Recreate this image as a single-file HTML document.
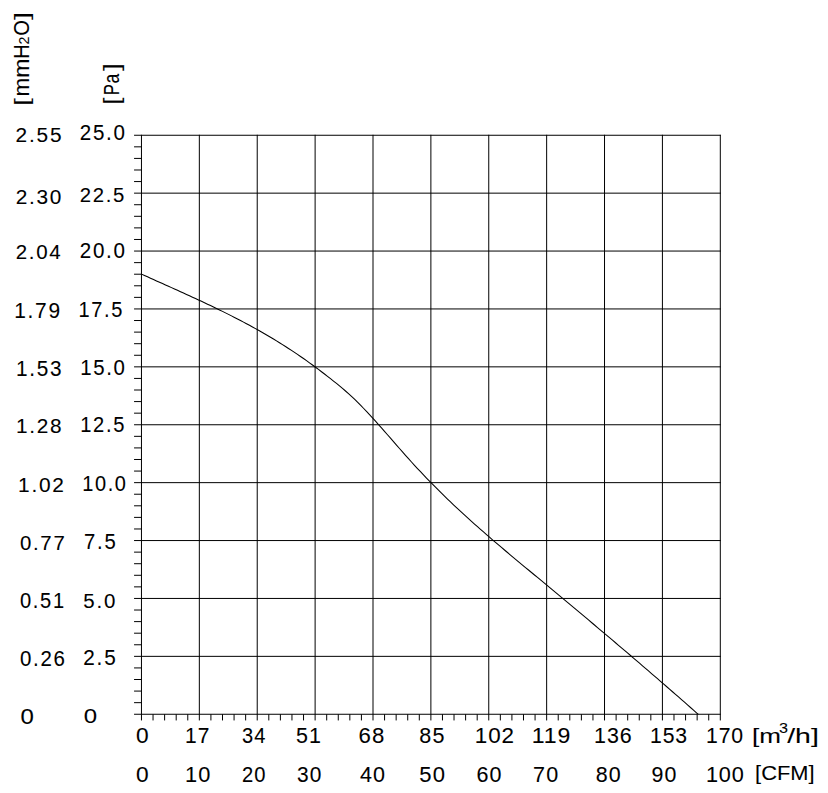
<!DOCTYPE html>
<html><head><meta charset="utf-8"><title>Fan curve</title>
<style>html,body{margin:0;padding:0;background:#fff;width:828px;height:793px;overflow:hidden}svg{display:block}</style>
</head><body>
<svg width="828" height="793" viewBox="0 0 828 793">
<rect width="828" height="793" fill="#fff"/>
<g stroke="#000" stroke-width="1.0" fill="none"><line x1="141.46" y1="134.80" x2="141.46" y2="720.45"/><line x1="199.34" y1="134.80" x2="199.34" y2="720.45"/><line x1="257.23" y1="134.80" x2="257.23" y2="720.45"/><line x1="315.11" y1="134.80" x2="315.11" y2="720.45"/><line x1="373.00" y1="134.80" x2="373.00" y2="720.45"/><line x1="430.88" y1="134.80" x2="430.88" y2="720.45"/><line x1="488.76" y1="134.80" x2="488.76" y2="720.45"/><line x1="546.65" y1="134.80" x2="546.65" y2="720.45"/><line x1="604.53" y1="134.80" x2="604.53" y2="720.45"/><line x1="662.42" y1="134.80" x2="662.42" y2="720.45"/><line x1="720.30" y1="134.80" x2="720.30" y2="720.45"/><line x1="134.06" y1="714.25" x2="720.75" y2="714.25"/><line x1="134.06" y1="656.35" x2="720.75" y2="656.35"/><line x1="134.06" y1="598.45" x2="720.75" y2="598.45"/><line x1="134.06" y1="540.55" x2="720.75" y2="540.55"/><line x1="134.06" y1="482.65" x2="720.75" y2="482.65"/><line x1="134.06" y1="424.75" x2="720.75" y2="424.75"/><line x1="134.06" y1="366.85" x2="720.75" y2="366.85"/><line x1="134.06" y1="308.95" x2="720.75" y2="308.95"/><line x1="134.06" y1="251.05" x2="720.75" y2="251.05"/><line x1="134.06" y1="193.15" x2="720.75" y2="193.15"/><line x1="134.06" y1="135.25" x2="720.75" y2="135.25"/><line x1="153.04" y1="714.25" x2="153.04" y2="720.45"/><line x1="134.06" y1="702.67" x2="141.46" y2="702.67"/><line x1="164.61" y1="714.25" x2="164.61" y2="720.45"/><line x1="134.06" y1="691.09" x2="141.46" y2="691.09"/><line x1="176.19" y1="714.25" x2="176.19" y2="720.45"/><line x1="134.06" y1="679.51" x2="141.46" y2="679.51"/><line x1="187.77" y1="714.25" x2="187.77" y2="720.45"/><line x1="134.06" y1="667.93" x2="141.46" y2="667.93"/><line x1="210.92" y1="714.25" x2="210.92" y2="720.45"/><line x1="134.06" y1="644.77" x2="141.46" y2="644.77"/><line x1="222.50" y1="714.25" x2="222.50" y2="720.45"/><line x1="134.06" y1="633.19" x2="141.46" y2="633.19"/><line x1="234.07" y1="714.25" x2="234.07" y2="720.45"/><line x1="134.06" y1="621.61" x2="141.46" y2="621.61"/><line x1="245.65" y1="714.25" x2="245.65" y2="720.45"/><line x1="134.06" y1="610.03" x2="141.46" y2="610.03"/><line x1="268.80" y1="714.25" x2="268.80" y2="720.45"/><line x1="134.06" y1="586.87" x2="141.46" y2="586.87"/><line x1="280.38" y1="714.25" x2="280.38" y2="720.45"/><line x1="134.06" y1="575.29" x2="141.46" y2="575.29"/><line x1="291.96" y1="714.25" x2="291.96" y2="720.45"/><line x1="134.06" y1="563.71" x2="141.46" y2="563.71"/><line x1="303.54" y1="714.25" x2="303.54" y2="720.45"/><line x1="134.06" y1="552.13" x2="141.46" y2="552.13"/><line x1="326.69" y1="714.25" x2="326.69" y2="720.45"/><line x1="134.06" y1="528.97" x2="141.46" y2="528.97"/><line x1="338.27" y1="714.25" x2="338.27" y2="720.45"/><line x1="134.06" y1="517.39" x2="141.46" y2="517.39"/><line x1="349.84" y1="714.25" x2="349.84" y2="720.45"/><line x1="134.06" y1="505.81" x2="141.46" y2="505.81"/><line x1="361.42" y1="714.25" x2="361.42" y2="720.45"/><line x1="134.06" y1="494.23" x2="141.46" y2="494.23"/><line x1="384.57" y1="714.25" x2="384.57" y2="720.45"/><line x1="134.06" y1="471.07" x2="141.46" y2="471.07"/><line x1="396.15" y1="714.25" x2="396.15" y2="720.45"/><line x1="134.06" y1="459.49" x2="141.46" y2="459.49"/><line x1="407.73" y1="714.25" x2="407.73" y2="720.45"/><line x1="134.06" y1="447.91" x2="141.46" y2="447.91"/><line x1="419.30" y1="714.25" x2="419.30" y2="720.45"/><line x1="134.06" y1="436.33" x2="141.46" y2="436.33"/><line x1="442.46" y1="714.25" x2="442.46" y2="720.45"/><line x1="134.06" y1="413.17" x2="141.46" y2="413.17"/><line x1="454.03" y1="714.25" x2="454.03" y2="720.45"/><line x1="134.06" y1="401.59" x2="141.46" y2="401.59"/><line x1="465.61" y1="714.25" x2="465.61" y2="720.45"/><line x1="134.06" y1="390.01" x2="141.46" y2="390.01"/><line x1="477.19" y1="714.25" x2="477.19" y2="720.45"/><line x1="134.06" y1="378.43" x2="141.46" y2="378.43"/><line x1="500.34" y1="714.25" x2="500.34" y2="720.45"/><line x1="134.06" y1="355.27" x2="141.46" y2="355.27"/><line x1="511.92" y1="714.25" x2="511.92" y2="720.45"/><line x1="134.06" y1="343.69" x2="141.46" y2="343.69"/><line x1="523.49" y1="714.25" x2="523.49" y2="720.45"/><line x1="134.06" y1="332.11" x2="141.46" y2="332.11"/><line x1="535.07" y1="714.25" x2="535.07" y2="720.45"/><line x1="134.06" y1="320.53" x2="141.46" y2="320.53"/><line x1="558.22" y1="714.25" x2="558.22" y2="720.45"/><line x1="134.06" y1="297.37" x2="141.46" y2="297.37"/><line x1="569.80" y1="714.25" x2="569.80" y2="720.45"/><line x1="134.06" y1="285.79" x2="141.46" y2="285.79"/><line x1="581.38" y1="714.25" x2="581.38" y2="720.45"/><line x1="134.06" y1="274.21" x2="141.46" y2="274.21"/><line x1="592.96" y1="714.25" x2="592.96" y2="720.45"/><line x1="134.06" y1="262.63" x2="141.46" y2="262.63"/><line x1="616.11" y1="714.25" x2="616.11" y2="720.45"/><line x1="134.06" y1="239.47" x2="141.46" y2="239.47"/><line x1="627.69" y1="714.25" x2="627.69" y2="720.45"/><line x1="134.06" y1="227.89" x2="141.46" y2="227.89"/><line x1="639.26" y1="714.25" x2="639.26" y2="720.45"/><line x1="134.06" y1="216.31" x2="141.46" y2="216.31"/><line x1="650.84" y1="714.25" x2="650.84" y2="720.45"/><line x1="134.06" y1="204.73" x2="141.46" y2="204.73"/><line x1="673.99" y1="714.25" x2="673.99" y2="720.45"/><line x1="134.06" y1="181.57" x2="141.46" y2="181.57"/><line x1="685.57" y1="714.25" x2="685.57" y2="720.45"/><line x1="134.06" y1="169.99" x2="141.46" y2="169.99"/><line x1="697.15" y1="714.25" x2="697.15" y2="720.45"/><line x1="134.06" y1="158.41" x2="141.46" y2="158.41"/><line x1="708.72" y1="714.25" x2="708.72" y2="720.45"/><line x1="134.06" y1="146.83" x2="141.46" y2="146.83"/></g>
<path d="M141.50,274.11 L144.50,275.47 L147.50,276.83 L150.50,278.19 L153.50,279.54 L156.50,280.90 L159.50,282.25 L162.50,283.59 L165.50,284.94 L168.50,286.29 L171.50,287.64 L174.50,288.99 L177.50,290.34 L180.50,291.70 L183.50,293.06 L186.50,294.42 L189.50,295.79 L192.50,297.17 L195.50,298.55 L198.50,299.94 L201.50,301.33 L204.50,302.74 L207.50,304.15 L210.50,305.58 L213.50,307.01 L216.50,308.46 L219.50,309.92 L222.50,311.39 L225.50,312.88 L228.50,314.38 L231.50,315.89 L234.50,317.42 L237.50,318.97 L240.50,320.53 L243.50,322.11 L246.50,323.71 L249.50,325.33 L252.50,326.97 L255.50,328.63 L258.50,330.31 L261.50,332.02 L264.50,333.74 L267.50,335.49 L270.50,337.26 L273.50,339.06 L276.50,340.88 L279.50,342.73 L282.50,344.61 L285.50,346.51 L288.50,348.44 L291.50,350.40 L294.50,352.39 L297.50,354.41 L300.50,356.46 L303.50,358.55 L306.50,360.66 L309.50,362.81 L312.50,364.99 L315.50,367.21 L318.50,369.45 L321.50,371.73 L324.50,374.02 L327.50,376.35 L330.50,378.69 L333.50,381.06 L336.50,383.46 L339.50,385.91 L342.50,388.41 L345.50,390.98 L348.50,393.64 L351.50,396.38 L354.50,399.23 L357.50,402.16 L360.50,405.17 L363.50,408.25 L366.50,411.40 L369.50,414.61 L372.50,417.88 L375.50,421.19 L378.50,424.54 L381.50,427.93 L384.50,431.34 L387.50,434.76 L390.50,438.20 L393.50,441.64 L396.50,445.08 L399.50,448.51 L402.50,451.93 L405.50,455.32 L408.50,458.68 L411.50,462.00 L414.50,465.28 L417.50,468.53 L420.50,471.73 L423.50,474.90 L426.50,478.03 L429.50,481.13 L432.50,484.19 L435.50,487.22 L438.50,490.22 L441.50,493.18 L444.50,496.12 L447.50,499.03 L450.50,501.91 L453.50,504.76 L456.50,507.58 L459.50,510.38 L462.50,513.16 L465.50,515.91 L468.50,518.64 L471.50,521.34 L474.50,524.03 L477.50,526.70 L480.50,529.35 L483.50,531.98 L486.50,534.60 L489.50,537.19 L492.50,539.78 L495.50,542.35 L498.50,544.91 L501.50,547.46 L504.50,549.99 L507.50,552.52 L510.50,555.04 L513.50,557.55 L516.50,560.05 L519.50,562.55 L522.50,565.04 L525.50,567.53 L528.50,570.01 L531.50,572.49 L534.50,574.98 L537.50,577.46 L540.50,579.94 L543.50,582.43 L546.50,584.92 L549.50,587.40 L552.50,589.90 L555.50,592.39 L558.50,594.88 L561.50,597.38 L564.50,599.88 L567.50,602.38 L570.50,604.89 L573.50,607.39 L576.50,609.90 L579.50,612.41 L582.50,614.93 L585.50,617.44 L588.50,619.96 L591.50,622.48 L594.50,625.01 L597.50,627.53 L600.50,630.06 L603.50,632.60 L606.50,635.13 L609.50,637.67 L612.50,640.21 L615.50,642.75 L618.50,645.30 L621.50,647.85 L624.50,650.41 L627.50,652.96 L630.50,655.52 L633.50,658.09 L636.50,660.65 L639.50,663.22 L642.50,665.80 L645.50,668.37 L648.50,670.95 L651.50,673.54 L654.50,676.13 L657.50,678.72 L660.50,681.31 L663.50,683.91 L666.50,686.52 L669.50,689.13 L672.50,691.74 L675.50,694.35 L678.50,696.97 L681.50,699.60 L684.50,702.22 L687.50,704.86 L690.50,707.49 L693.50,710.13 L696.50,712.78 L698.30,714.37" stroke="#000" stroke-width="1.05" fill="none" stroke-linejoin="round"/>
<g style="font-family:&quot;Liberation Sans&quot;,sans-serif" font-size="20" fill="#000" stroke="#000" stroke-width="0.08"><text transform="matrix(1.0435 0 0 1.0528 15.609 141.529)" letter-spacing="1.686">2.55</text><text transform="matrix(1.0414 0 0 1.0190 15.630 203.506)" letter-spacing="1.686">2.30</text><text transform="matrix(1.0254 0 0 1.0530 15.653 258.789)" letter-spacing="1.695">2.04</text><text transform="matrix(1.0465 0 0 1.0796 14.141 318.374)" letter-spacing="1.659">1.79</text><text transform="matrix(1.0388 0 0 1.0796 15.903 376.374)" letter-spacing="1.659">1.53</text><text transform="matrix(1.0400 0 0 1.0528 15.875 432.649)" letter-spacing="1.664">1.28</text><text transform="matrix(1.0452 0 0 1.0532 18.116 492.379)" letter-spacing="1.655">1.02</text><text transform="matrix(1.0188 0 0 1.0557 19.917 549.670)" letter-spacing="1.686">0.77</text><text transform="matrix(1.0056 0 0 1.0606 19.937 607.788)" letter-spacing="1.686">0.51</text><text transform="matrix(1.0228 0 0 1.0801 20.013 666.374)" letter-spacing="1.691">0.26</text><text transform="matrix(1.1984 0 0 1.0661 20.379 723.804)">0</text><text transform="matrix(1.0283 0 0 1.0711 79.763 140.496)" letter-spacing="1.686">25.0</text><text transform="matrix(1.0172 0 0 1.0528 79.685 201.789)" letter-spacing="1.686">22.5</text><text transform="matrix(1.0280 0 0 1.0796 79.762 258.374)" letter-spacing="1.686">20.0</text><text transform="matrix(1.0020 0 0 1.0607 78.432 317.498)" letter-spacing="1.664">17.5</text><text transform="matrix(1.0199 0 0 1.1127 80.137 375.487)" letter-spacing="1.664">15.0</text><text transform="matrix(1.0050 0 0 1.0627 80.190 431.527)" letter-spacing="1.664">12.5</text><text transform="matrix(0.9984 0 0 1.0662 82.131 490.787)" letter-spacing="1.664">10.0</text><text transform="matrix(1.0133 0 0 1.0616 83.912 548.660)" letter-spacing="1.773">7.5</text><text transform="matrix(1.0240 0 0 1.0521 83.189 607.640)" letter-spacing="1.786">5.0</text><text transform="matrix(1.0363 0 0 1.1127 83.211 665.487)" letter-spacing="1.773">2.5</text><text transform="matrix(1.1983 0 0 1.0536 83.768 722.791)">0</text><text transform="matrix(1.1361 0 0 1.0752 135.887 742.670)">0</text><text transform="matrix(1.0477 0 0 1.0696 185.117 742.760)" letter-spacing="1.037">17</text><text transform="matrix(1.0037 0 0 1.0716 242.099 742.648)" letter-spacing="1.100">34</text><text transform="matrix(1.0737 0 0 1.0614 295.895 742.648)" letter-spacing="1.079">51</text><text transform="matrix(1.1090 0 0 1.0714 358.557 742.646)" letter-spacing="1.074">68</text><text transform="matrix(1.0763 0 0 1.0711 419.365 742.646)" letter-spacing="1.079">85</text><text transform="matrix(1.1201 0 0 1.0713 474.783 742.646)" letter-spacing="0.813">102</text><text transform="matrix(1.1534 0 0 1.0711 531.682 742.646)" letter-spacing="0.774">119</text><text transform="matrix(1.0710 0 0 1.0722 594.095 742.646)" letter-spacing="0.816">136</text><text transform="matrix(1.0584 0 0 1.0711 650.083 742.646)" letter-spacing="0.816">153</text><text transform="matrix(1.0601 0 0 1.0711 706.012 742.646)" letter-spacing="0.818">170</text><text transform="matrix(1.1361 0 0 1.0752 135.887 781.810)">0</text><text transform="matrix(1.0886 0 0 1.0760 185.042 781.785)" letter-spacing="1.053">10</text><text transform="matrix(1.0088 0 0 1.0715 242.044 781.786)" letter-spacing="1.079">20</text><text transform="matrix(1.0446 0 0 1.0711 297.076 781.786)" letter-spacing="1.089">30</text><text transform="matrix(1.0760 0 0 1.0730 359.875 781.805)" letter-spacing="1.105">40</text><text transform="matrix(1.1020 0 0 1.0718 419.283 781.796)" letter-spacing="1.089">50</text><text transform="matrix(1.0750 0 0 1.0729 476.428 781.791)" letter-spacing="1.079">60</text><text transform="matrix(1.0771 0 0 1.0730 533.123 781.812)" letter-spacing="1.079">70</text><text transform="matrix(1.0720 0 0 1.0716 595.744 781.786)" letter-spacing="1.084">80</text><text transform="matrix(1.0679 0 0 1.0739 651.542 781.789)" letter-spacing="1.084">90</text><text transform="matrix(1.0831 0 0 1.0736 705.875 781.785)" letter-spacing="0.818">100</text><text transform="matrix(1.3026 0 0 1.0000 751.976 743.000)">[m</text><text transform="matrix(0.8085 0 0 0.7113 778.953 733.458)">3</text><text transform="matrix(1.4231 0 0 1.0214 787.200 742.910)">/h]</text><text transform="matrix(1.0930 0 0 0.9909 755.102 779.698)">[CFM]</text><text transform="matrix(0 -1.3250 1.0321 0 28.565 105.755)">[</text><text transform="matrix(0 -1.1214 1.0648 0 29.000 96.458)">m</text><text transform="matrix(0 -1.1500 1.0648 0 29.000 77.795)">m</text><text transform="matrix(0 -1.0000 1.0725 0 29.000 58.800)">H</text><text transform="matrix(0 -0.7143 0.7286 0 29.000 44.414)">2</text><text transform="matrix(0 -1.0073 1.1056 0 29.379 35.807)">O</text><text transform="matrix(0 -1.4359 1.0321 0 28.565 20.087)">]</text><text transform="matrix(0 -1.2250 1.0588 0 118.653 104.615)">[</text><text transform="matrix(0 -0.8411 1.0797 0 118.900 95.146)">P</text><text transform="matrix(0 -0.8824 1.1000 0 119.380 83.494)">a</text><text transform="matrix(0 -1.4103 1.0588 0 118.653 70.882)">]</text></g>
</svg>
</body></html>
